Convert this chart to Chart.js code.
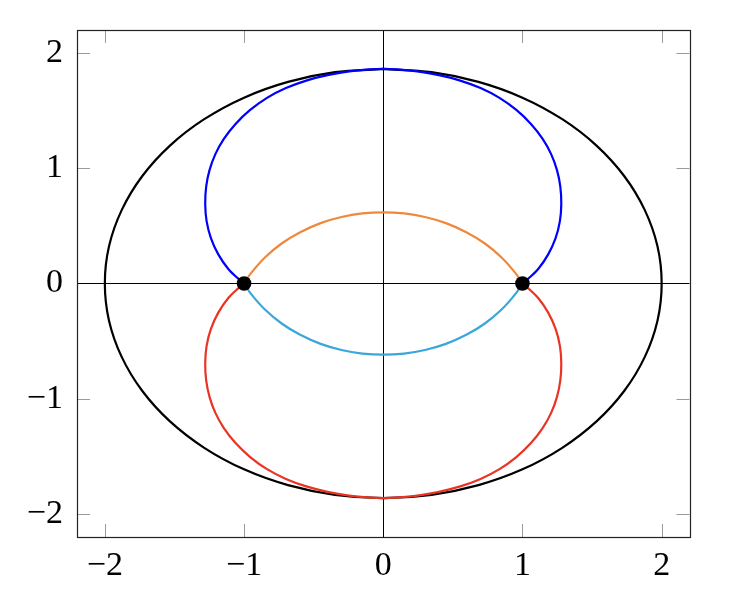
<!DOCTYPE html>
<html>
<head>
<meta charset="utf-8">
<script src="https://cdn.jsdelivr.net/npm/chart.js@4"></script>
<style>
  html, body { margin: 0; padding: 0; background: #ffffff; }
  #wrap { width: 744px; height: 598px; }
</style>
</head>
<body>
<div id="wrap"><canvas id="c" width="744" height="598"></canvas></div>
<script>
// ---- Data ----
const xTickValues = [-2, -1, 0, 1, 2];
const yTickValues = [-2, -1, 0, 1, 2];
const xTickLabels = ['\u22122', '\u22121', '0', '1', '2'];
const yTickLabels = ['\u22122', '\u22121', '0', '1', '2'];

// outer black oval (closed, clockwise from the top)
const ovalPts = [
  [0, 1.862], [0.347, 1.834], [0.684, 1.750], [1.0, 1.613], [1.286, 1.426], [1.532, 1.197],
  [1.732, 0.931], [1.879, 0.637], [1.970, 0.323], [2.0, 0],
  [1.970, -0.323], [1.879, -0.637], [1.732, -0.931], [1.532, -1.197], [1.286, -1.426],
  [1.0, -1.613], [0.684, -1.750], [0.347, -1.834], [0, -1.862],
  [-0.347, -1.834], [-0.684, -1.750], [-1.0, -1.613], [-1.286, -1.426], [-1.532, -1.197],
  [-1.732, -0.931], [-1.879, -0.637], [-1.970, -0.323], [-2.0, 0],
  [-1.970, 0.323], [-1.879, 0.637], [-1.732, 0.931], [-1.532, 1.197], [-1.286, 1.426],
  [-1.0, 1.613], [-0.684, 1.750], [-0.347, 1.834], [0, 1.862]
];

// upper outer loop (blue), from (-1,0) over the top to (1,0)
const blueLoopPts = [
  [-1.0, 0.0], [-1.042, 0.042], [-1.113, 0.126], [-1.185, 0.253], [-1.238, 0.394], [-1.269, 0.541],
  [-1.279, 0.691], [-1.272, 0.841], [-1.248, 0.984], [-1.206, 1.123], [-1.145, 1.255], [-1.061, 1.385],
  [-0.956, 1.506], [-0.835, 1.611], [-0.699, 1.696], [-0.553, 1.761], [-0.4, 1.808], [-0.2, 1.848],
  [0, 1.862],
  [0.2, 1.848], [0.4, 1.808], [0.553, 1.761], [0.699, 1.696], [0.835, 1.611], [0.956, 1.506],
  [1.061, 1.385], [1.145, 1.255], [1.206, 1.123], [1.248, 0.984], [1.272, 0.841], [1.279, 0.691],
  [1.269, 0.541], [1.238, 0.394], [1.185, 0.253], [1.113, 0.126], [1.042, 0.042], [1.0, 0.0]
];

// lower outer loop (red), from (-1,0) under the bottom to (1,0)
const redLoopPts = [
  [-1.0, 0.0], [-1.042, -0.042], [-1.113, -0.126], [-1.185, -0.253], [-1.238, -0.394], [-1.269, -0.541],
  [-1.279, -0.691], [-1.272, -0.841], [-1.248, -0.984], [-1.206, -1.123], [-1.145, -1.255], [-1.061, -1.385],
  [-0.956, -1.506], [-0.835, -1.611], [-0.699, -1.696], [-0.553, -1.761], [-0.4, -1.808], [-0.2, -1.848],
  [0, -1.862],
  [0.2, -1.848], [0.4, -1.808], [0.553, -1.761], [0.699, -1.696], [0.835, -1.611], [0.956, -1.506],
  [1.061, -1.385], [1.145, -1.255], [1.206, -1.123], [1.248, -0.984], [1.272, -0.841], [1.279, -0.691],
  [1.269, -0.541], [1.238, -0.394], [1.185, -0.253], [1.113, -0.126], [1.042, -0.042], [1.0, 0.0]
];

// upper inner arc (orange)
const orangeArcPts = [
  [-1.0, 0.0], [-0.95, 0.09], [-0.85, 0.226], [-0.73, 0.347], [-0.6, 0.443], [-0.45, 0.524],
  [-0.3, 0.577], [-0.15, 0.608], [0, 0.618],
  [0.15, 0.608], [0.3, 0.577], [0.45, 0.524], [0.6, 0.443], [0.73, 0.347], [0.85, 0.226],
  [0.95, 0.09], [1.0, 0.0]
];

// lower inner arc (light blue)
const cyanArcPts = [
  [-1.0, 0.0], [-0.95, -0.09], [-0.85, -0.226], [-0.73, -0.347], [-0.6, -0.443], [-0.45, -0.524],
  [-0.3, -0.577], [-0.15, -0.608], [0, -0.618],
  [0.15, -0.608], [0.3, -0.577], [0.45, -0.524], [0.6, -0.443], [0.73, -0.347], [0.85, -0.226],
  [0.95, -0.09], [1.0, 0.0]
];

// marked points
const markPts = [[-1, 0], [1, 0]];

const toXY = a => a.map(p => ({ x: p[0], y: p[1] }));

// ---- Plugin: frame and inside ticks on all four sides ----
const frameTicks = {
  id: 'frameTicks',
  afterDatasetsDraw(chart) {
    const { ctx, chartArea: a, scales } = chart;
    const xs = scales.x, ys = scales.y;
    const TL = 13;
    ctx.save();
    ctx.strokeStyle = '#9a9a9a';
    ctx.lineWidth = 1;
    ctx.beginPath();
    xTickValues.forEach(v => {
      if (v === 0) return;
      const px = Math.round(xs.getPixelForValue(v)) + 0.5;
      ctx.moveTo(px, a.bottom); ctx.lineTo(px, a.bottom - TL);
      ctx.moveTo(px, a.top); ctx.lineTo(px, a.top + TL);
    });
    yTickValues.forEach(v => {
      if (v === 0) return;
      const py = Math.round(ys.getPixelForValue(v)) + 0.5;
      ctx.moveTo(a.left, py); ctx.lineTo(a.left + TL, py);
      ctx.moveTo(a.right, py); ctx.lineTo(a.right - TL, py);
    });
    ctx.stroke();
    ctx.strokeStyle = '#222';
    ctx.lineWidth = 1.2;
    ctx.strokeRect(Math.round(a.left) + 0.5, Math.round(a.top) + 0.5,
                   Math.round(a.right) - Math.round(a.left), Math.round(a.bottom) - Math.round(a.top));
    ctx.restore();
  }
};

const lineDs = (label, pts, color) => ({
  label, data: toXY(pts), showLine: true, borderColor: color, borderWidth: 2.2,
  pointRadius: 0, fill: false, tension: 0.33
});

const zeroColor = ctx => (ctx.tick && ctx.tick.value === 0) ? '#000000' : 'rgba(0,0,0,0)';
const fmt = (labels, values) => (v) => {
  const i = values.indexOf(v);
  return i >= 0 ? labels[i] : '';
};

new Chart(document.getElementById('c'), {
  type: 'scatter',
  data: {
    datasets: [
      { label: 'points', data: toXY(markPts), pointRadius: 7.3, pointBackgroundColor: '#000',
        pointBorderColor: '#000', pointBorderWidth: 0, showLine: false },
      lineDs('upper loop', blueLoopPts, '#0000ff'),
      lineDs('lower loop', redLoopPts, '#ea3323'),
      lineDs('upper arc', orangeArcPts, '#f0883c'),
      lineDs('lower arc', cyanArcPts, '#3aa6dc'),
      lineDs('oval', ovalPts, '#000000')
    ]
  },
  options: {
    responsive: false,
    animation: false,
    devicePixelRatio: 1,
    layout: { padding: { top: 30, right: 54.5, left: 0, bottom: 0 } },
    plugins: { legend: { display: false }, tooltip: { enabled: false } },
    scales: {
      x: {
        type: 'linear', min: -2.2, max: 2.2,
        afterFit: s => { s.height = 61; s.paddingLeft = 0; s.paddingRight = 0; },
        afterBuildTicks: s => { s.ticks = xTickValues.map(v => ({ value: v })); },
        grid: { drawTicks: false, color: zeroColor, lineWidth: 1 },
        border: { display: false },
        ticks: {
          padding: 9, maxRotation: 0, autoSkip: false, color: '#000',
          font: { family: 'Liberation Serif', size: 34 },
          callback: fmt(xTickLabels, xTickValues)
        }
      },
      y: {
        type: 'linear', min: -2.2, max: 2.2,
        afterFit: s => { s.width = 77; s.paddingTop = 0; s.paddingBottom = 0; },
        afterBuildTicks: s => { s.ticks = yTickValues.map(v => ({ value: v })); },
        grid: { drawTicks: false, color: zeroColor, lineWidth: 1 },
        border: { display: false },
        ticks: {
          padding: 14, autoSkip: false, color: '#000',
          font: { family: 'Liberation Serif', size: 34 },
          callback: fmt(yTickLabels, yTickValues)
        }
      }
    }
  },
  plugins: [frameTicks]
});
</script>
</body>
</html>
